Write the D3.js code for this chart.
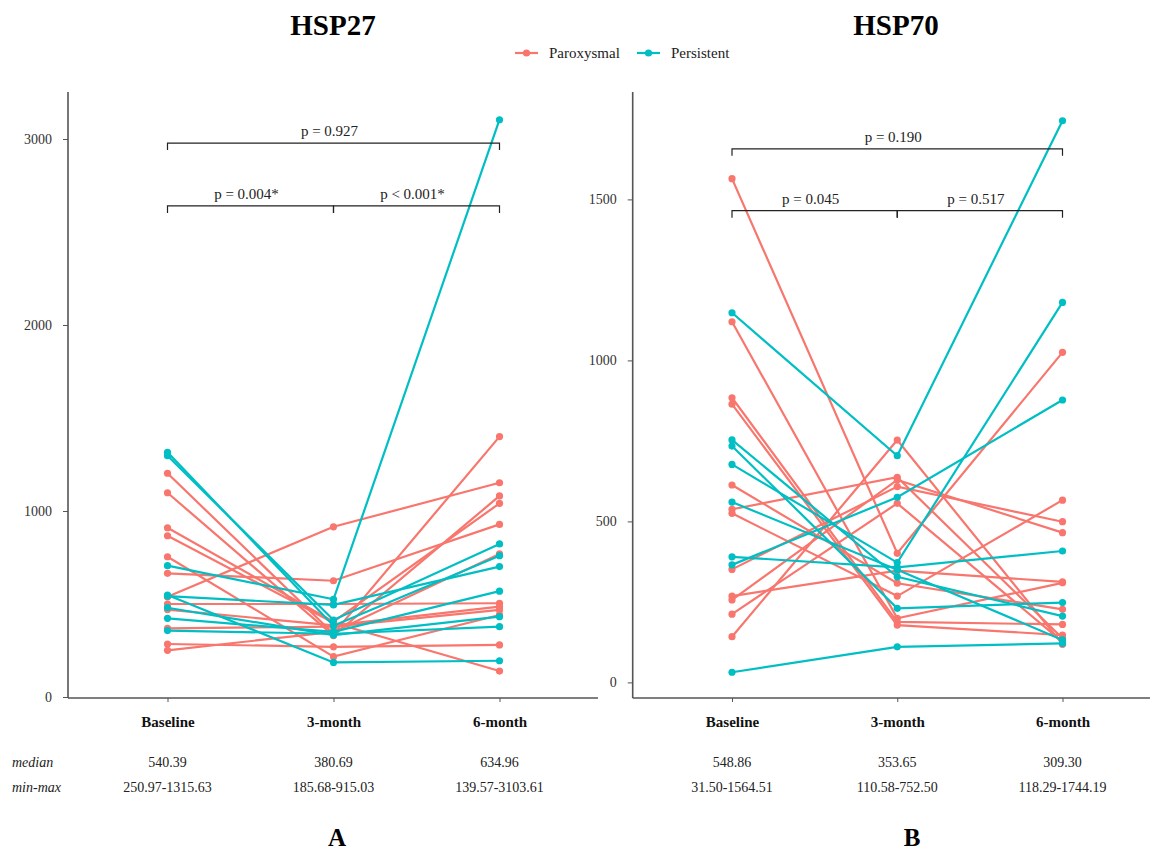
<!DOCTYPE html>
<html>
<head>
<meta charset="utf-8">
<script src="https://cdn.jsdelivr.net/npm/d3@7"></script>
<style>
  body { margin: 0; background: #fff; }
  svg text { font-family: "Liberation Serif", "Times New Roman", serif; fill: #222; }
</style>
</head>
<body>
<svg id="chart" width="1156" height="853"></svg>
<script>
// time points and group names
var timepoints = ["Baseline", "3-month", "6-month"];
var groups = ["Paroxysmal", "Persistent"];
var colors = ["#F8766D", "#00BFC4"];

// HSP27, one row per patient: baseline, 3-month, 6-month
var hsp27Paroxysmal = [
  [1203, 340, 1400], [1098, 330, 1081], [910, 405, 1041], [867, 399, 139.57],
  [754, 217, 441], [665, 625, 928], [538.8, 915.03, 1152], [500, 500, 504],
  [470, 385, 486], [369, 378, 468], [285, 270, 280], [250.97, 350, 769]
];
var hsp27Persistent = [
  [1315.63, 383, 760], [1297, 414, 823], [706, 525, 3103.61], [542, 495, 701],
  [548, 185.68, 195], [480, 333, 432], [423, 350, 569], [357, 340, 378]
];

// HSP70
var hsp70Paroxysmal = [
  [1564.51, 401, 1025], [1120, 199, 309.3], [884, 188, 180], [864, 178, 147],
  [613, 308, 227], [537.7, 637, 137], [525, 268, 566], [351, 608, 499],
  [268, 347, 312], [256, 629, 465], [212, 556, 126], [142, 752.5, 118.29]
];
var hsp70Persistent = [
  [1148, 704, 1744.19], [753, 328, 206], [734, 230, 248], [677, 372, 1180],
  [560, 350, 132], [390, 357.3, 408], [365, 575, 877], [31.5, 110.58, 121]
];

// y ticks
var hsp27Ticks = [0, 1000, 2000, 3000];
var hsp70Ticks = [0, 500, 1000, 1500];

// comparison brackets: [from index, to index, label]
var hsp27Brackets = [[0, 2, "p = 0.927"], [0, 1, "p = 0.004*"], [1, 2, "p < 0.001*"]];
var hsp70Brackets = [[0, 2, "p = 0.190"], [0, 1, "p = 0.045"], [1, 2, "p = 0.517"]];
var hsp27BracketLevels = [2978, 2640, 2640];
var hsp70BracketLevels = [1657, 1465, 1465];

// summary rows under the axes
var hsp27Median = ["540.39", "380.69", "634.96"];
var hsp27Range = ["250.97-1315.63", "185.68-915.03", "139.57-3103.61"];
var hsp70Median = ["548.86", "353.65", "309.30"];
var hsp70Range = ["31.50-1564.51", "110.58-752.50", "118.29-1744.19"];

var svg = d3.select("#chart");

function drawPanel(p) {
  var g = svg.append("g");

  var x = d3.scalePoint().domain(timepoints).range(p.xRange);
  var y = d3.scaleLinear().domain(p.yDomain).range(p.yRange);

  // axis lines
  g.append("line")
    .attr("x1", p.axisLeft).attr("x2", p.axisLeft)
    .attr("y1", 92).attr("y2", 698)
    .attr("stroke", "#555").attr("stroke-width", 1.6);
  g.append("line")
    .attr("x1", p.axisLeft).attr("x2", p.axisRight)
    .attr("y1", 698).attr("y2", 698)
    .attr("stroke", "#555").attr("stroke-width", 1.6);

  var ya = g.append("g")
    .attr("transform", "translate(" + p.axisLeft + ",0)")
    .call(d3.axisLeft(y).tickValues(p.ticks).tickSize(5).tickPadding(11).tickFormat(d3.format("d")));
  ya.select(".domain").remove();
  ya.selectAll("line").attr("stroke", "#555");
  ya.selectAll("text").style("font-size", "14px").style("fill", "#333")
    .style("font-family", "'Liberation Serif', serif");

  var xa = g.append("g")
    .attr("transform", "translate(0,698)")
    .call(d3.axisBottom(x).tickSize(4).tickPadding(14));
  xa.select(".domain").remove();
  xa.selectAll("line").attr("stroke", "#555");
  xa.selectAll("text").style("font-size", "15px").style("font-weight", "bold")
    .style("fill", "#111").style("font-family", "'Liberation Serif', serif");

  // patient lines
  var line = d3.line()
    .x(function(d, i) { return x(timepoints[i]); })
    .y(function(d) { return y(d); });

  [p.series[0], p.series[1]].forEach(function(rows, k) {
    var s = g.append("g").attr("class", "serie");
    s.selectAll("path")
      .data(rows)
      .enter().append("path")
        .attr("d", line)
        .attr("fill", "none")
        .attr("stroke", colors[k])
        .attr("stroke-width", 2.2);
    rows.forEach(function(r) {
      s.selectAll(null)
        .data(r)
        .enter().append("circle")
          .attr("cx", function(d, i) { return x(timepoints[i]); })
          .attr("cy", function(d) { return y(d); })
          .attr("r", 3.6)
          .attr("fill", colors[k]);
    });
  });

  // brackets
  p.brackets.forEach(function(b, i) {
    var x1 = x(timepoints[b[0]]), x2 = x(timepoints[b[1]]);
    var by = y(p.levels[i]);
    g.append("path")
      .attr("d", "M" + x1 + "," + (by + 7) + "V" + by + "H" + x2 + "V" + (by + 7))
      .attr("fill", "none")
      .attr("stroke", "#222")
      .attr("stroke-width", 1.2);
    g.append("text")
      .attr("x", (x1 + x2) / 2 - 4)
      .attr("y", by - 7)
      .attr("text-anchor", "middle")
      .style("font-size", "15px")
      .text(b[2]);
  });

  // title
  g.append("text")
    .attr("x", p.titleX).attr("y", 35)
    .attr("text-anchor", "middle")
    .style("font-size", "29px").style("font-weight", "bold")
    .style("fill", "#000")
    .text(p.title);

  // median and min-max rows
  g.selectAll(".med")
    .data(p.median)
    .enter().append("text")
      .attr("x", function(d, i) { return x(timepoints[i]); })
      .attr("y", 767)
      .attr("text-anchor", "middle")
      .style("font-size", "14px")
      .text(function(d) { return d; });
  g.selectAll(".rng")
    .data(p.range)
    .enter().append("text")
      .attr("x", function(d, i) { return x(timepoints[i]); })
      .attr("y", 792)
      .attr("text-anchor", "middle")
      .style("font-size", "14px")
      .text(function(d) { return d; });

  // panel letter
  g.append("text")
    .attr("x", p.letterX).attr("y", 846)
    .attr("text-anchor", "middle")
    .style("font-size", "25px").style("font-weight", "bold")
    .style("fill", "#000")
    .text(p.letter);
}

drawPanel({
  title: "HSP27", titleX: 333, letter: "A", letterX: 337,
  xRange: [167.5, 499.5], axisLeft: 68, axisRight: 598,
  yDomain: [0, 3000], yRange: [697, 139], ticks: hsp27Ticks,
  series: [hsp27Paroxysmal, hsp27Persistent],
  brackets: hsp27Brackets, levels: hsp27BracketLevels,
  median: hsp27Median, range: hsp27Range
});

drawPanel({
  title: "HSP70", titleX: 896, letter: "B", letterX: 912,
  xRange: [732, 1062.5], axisLeft: 632.7, axisRight: 1150,
  yDomain: [0, 1500], yRange: [682.4, 199.4], ticks: hsp70Ticks,
  series: [hsp70Paroxysmal, hsp70Persistent],
  brackets: hsp70Brackets, levels: hsp70BracketLevels,
  median: hsp70Median, range: hsp70Range
});

// row labels
svg.append("text").attr("x", 12).attr("y", 767)
  .style("font-size", "14px").style("font-style", "italic").text("median");
svg.append("text").attr("x", 12).attr("y", 792)
  .style("font-size", "14px").style("font-style", "italic").text("min-max");

// legend
var legend = svg.selectAll(".legend")
  .data(groups)
  .enter().append("g")
  .attr("class", "legend")
  .attr("transform", function(d, i) { return "translate(" + (515 + i * 122) + ",53)"; });

legend.append("line")
  .attr("x1", 0).attr("x2", 23)
  .attr("stroke", function(d, i) { return colors[i]; })
  .attr("stroke-width", 2.2);
legend.append("circle")
  .attr("cx", 11.5).attr("r", 3.6)
  .attr("fill", function(d, i) { return colors[i]; });
legend.append("text")
  .attr("x", 34).attr("dy", "0.35em")
  .style("font-size", "15px")
  .text(function(d) { return d; });
</script>
</body>
</html>
